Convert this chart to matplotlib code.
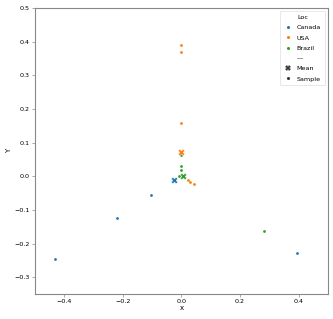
import matplotlib
matplotlib.use("Agg")
import matplotlib.pyplot as plt
from matplotlib.lines import Line2D

locs = ["Canada", "USA", "Brazil"]
colors = ["#1f77b4", "#ff7f0e", "#2ca02c"]

canada_x = [-0.43, -0.221, -0.103, 0.394]
canada_y = [-0.247, -0.125, -0.056, -0.229]
usa_x = [0.0, 0.0, 0.0, 0.0, 0.021, 0.030, 0.043]
usa_y = [0.390, 0.368, 0.157, 0.068, -0.011, -0.017, -0.024]
brazil_x = [0.0, 0.0, 0.0, -0.008, 0.28]
brazil_y = [0.063, 0.030, 0.020, 0.001, -0.163]

mean_x = [-0.027, 0.0, 0.005]
mean_y = [-0.012, 0.072, 0.002]

xs = [canada_x, usa_x, brazil_x]
ys = [canada_y, usa_y, brazil_y]

fig = plt.figure(figsize=(3.33, 3.19), dpi=100)
ax = fig.add_axes([0.105, 0.078, 0.88, 0.897])

for x, y, c in zip(xs, ys, colors):
    ax.scatter(x, y, s=4, color=c, marker="o", linewidths=0, zorder=3)
for mx, my, c in zip(mean_x, mean_y, colors):
    ax.scatter([mx], [my], s=22, color=c, marker="X", linewidths=0.3,
               edgecolors="white", zorder=4)

ax.set_xlim(-0.5, 0.5)
ax.set_ylim(-0.35, 0.5)
ax.set_xticks([-0.4, -0.2, 0.0, 0.2, 0.4])
ax.set_yticks([-0.3, -0.2, -0.1, 0.0, 0.1, 0.2, 0.3, 0.4, 0.5])
ax.set_xticklabels(["−0.4", "−0.2", "0.0", "0.2", "0.4"])
ax.set_yticklabels(["−0.3", "−0.2", "−0.1", "0.0", "0.1", "0.2", "0.3", "0.4", "0.5"])
ax.tick_params(labelsize=4.6, length=2, width=0.5, color="#888888", pad=1.5)
for s in ax.spines.values():
    s.set_color("#888888")
    s.set_linewidth(0.8)
ax.set_xlabel("x", fontsize=5, labelpad=1)
ax.set_ylabel("Y", fontsize=5, labelpad=2)

handles = [Line2D([], [], linestyle="none", marker="o", markersize=2.2,
                  color=c, markeredgewidth=0) for c in colors]
labels = list(locs)
handles.append(Line2D([], [], linestyle="none"))
labels.append("—")
handles.append(Line2D([], [], linestyle="none", marker="X", markersize=4,
                      color="#333333", markeredgewidth=0))
labels.append("Mean")
handles.append(Line2D([], [], linestyle="none", marker="o", markersize=2.2,
                      color="#333333", markeredgewidth=0))
labels.append("Sample")
leg = ax.legend(handles, labels, title="Loc", loc="upper right",
                fontsize=4.6, title_fontsize=4.6, frameon=True,
                borderpad=0.6, labelspacing=0.75, handletextpad=0.8,
                handlelength=1.2, borderaxespad=0.5)
leg.get_frame().set_linewidth(0.4)
leg.get_frame().set_edgecolor("#cccccc")

fig.savefig("out.png", dpi=100)
